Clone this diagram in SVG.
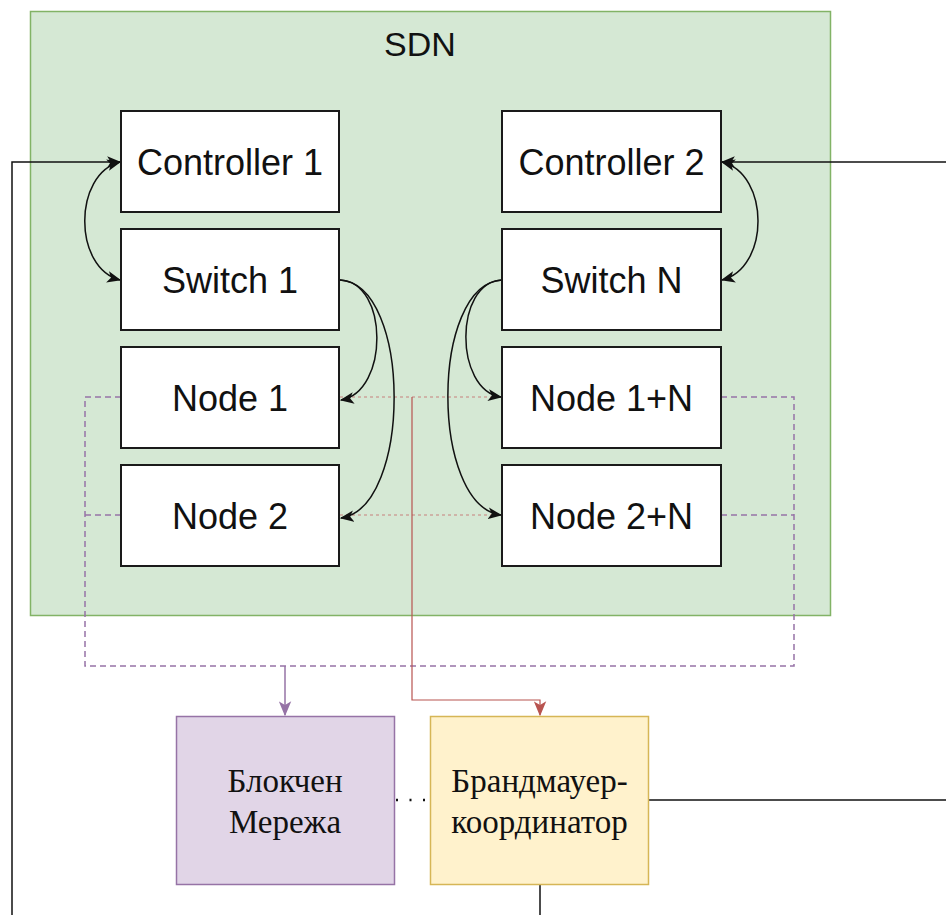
<svg xmlns="http://www.w3.org/2000/svg" width="946" height="915" viewBox="0 0 946 915">
  <defs>
    <style>
      .box { fill: #ffffff; stroke: #1a1a1a; stroke-width: 2; }
      .lbl { font-family: "Liberation Sans", Arial, sans-serif; font-size: 36px; fill: #111; text-anchor: middle; }
      .ser { font-family: "Liberation Serif", "Times New Roman", serif; font-size: 33px; fill: #111; text-anchor: middle; }
      .edge { fill: none; stroke: #111; stroke-width: 1.5; }
      .purple { fill: none; stroke: #9673a6; stroke-width: 1.5; stroke-dasharray: 6 4; }
      .red { fill: none; stroke: #b85450; stroke-width: 1.2; }
      .reddash { fill: none; stroke: #c8807c; stroke-width: 1.2; stroke-dasharray: 3 3; }
    </style>
    <marker id="arrow" viewBox="0 0 12 10" refX="11" refY="5" markerWidth="14" markerHeight="12" markerUnits="userSpaceOnUse" orient="auto-start-reverse">
      <path d="M0,0 L12,5 L0,10 L3,5 Z" fill="#111"/>
    </marker>
    <marker id="arrowPurple" viewBox="0 0 12 10" refX="11" refY="5" markerWidth="15" markerHeight="13" markerUnits="userSpaceOnUse" orient="auto">
      <path d="M0,0 L12,5 L0,10 L3,5 Z" fill="#9673a6"/>
    </marker>
    <marker id="arrowRed" viewBox="0 0 12 10" refX="11" refY="5" markerWidth="15" markerHeight="13" markerUnits="userSpaceOnUse" orient="auto">
      <path d="M0,0 L12,5 L0,10 L3,5 Z" fill="#b85450"/>
    </marker>
  </defs>

  <!-- SDN container -->
  <g id="sdn">
    <rect x="30.5" y="11.5" width="800" height="604" fill="#d5e8d4" stroke="#82b366" stroke-width="1.5"/>
    <text x="420" y="56" class="lbl" style="font-size:34px">SDN</text>
  </g>

  <!-- connectors -->
  <g id="connectors">
    <!-- dashed links from nodes to the blockchain -->
    <path class="purple" d="M121,397 H85 V666 H794 V397 H721"/>
    <path class="purple" d="M121,515 H85"/>
    <path class="purple" d="M721,515 H794"/>
    <path class="purple" d="M285,666 V715" style="stroke-dasharray:none" marker-end="url(#arrowPurple)"/>

    <!-- red links from nodes to the firewall coordinator -->
    <path class="reddash" d="M340,397 H502"/>
    <path class="reddash" d="M340,515 H502"/>
    <path class="red" d="M412,397 V700 H540 V715" marker-end="url(#arrowRed)"/>

    <!-- external lines -->
    <path class="edge" d="M12,915 V162 H120" marker-end="url(#arrow)"/>
    <path class="edge" d="M946,162 H722" marker-end="url(#arrow)"/>
    <path class="edge" d="M649,800 H946"/>
    <path class="edge" d="M540,885 V915"/>
    <path class="edge" d="M396,800 H430" style="stroke-dasharray:2 11.5; stroke-width:2.5"/>

    <!-- controller / switch links -->
    <path class="edge" d="M120,162 C73,174 73,268 120,280" marker-start="url(#arrow)" marker-end="url(#arrow)"/>
    <path class="edge" d="M722,162 C770,174 770,268 722,280" marker-start="url(#arrow)" marker-end="url(#arrow)"/>

    <!-- switch to node links -->
    <path class="edge" d="M340,280 C389,282 389,392 341,400" marker-end="url(#arrow)"/>
    <path class="edge" d="M340,280 C412,284 412,508 341,518" marker-end="url(#arrow)"/>
    <path class="edge" d="M502,280 C454,282 454,390 501,397" marker-end="url(#arrow)"/>
    <path class="edge" d="M502,280 C430,284 430,506 501,515" marker-end="url(#arrow)"/>
  </g>

  <g id="controller1">
    <rect class="box" x="121" y="111" width="218" height="101"/>
    <text class="lbl" x="230" y="175">Controller 1</text>
  </g>
  <g id="switch1">
    <rect class="box" x="121" y="229" width="218" height="101"/>
    <text class="lbl" x="230" y="293">Switch 1</text>
  </g>
  <g id="node1">
    <rect class="box" x="121" y="347" width="218" height="101"/>
    <text class="lbl" x="230" y="411">Node 1</text>
  </g>
  <g id="node2">
    <rect class="box" x="121" y="465" width="218" height="101"/>
    <text class="lbl" x="230" y="529">Node 2</text>
  </g>

  <g id="controller2">
    <rect class="box" x="502" y="111" width="219" height="101"/>
    <text class="lbl" x="611.5" y="175">Controller 2</text>
  </g>
  <g id="switchN">
    <rect class="box" x="502" y="229" width="219" height="101"/>
    <text class="lbl" x="611.5" y="293">Switch N</text>
  </g>
  <g id="node1N">
    <rect class="box" x="502" y="347" width="219" height="101"/>
    <text class="lbl" x="611.5" y="411">Node 1+N</text>
  </g>
  <g id="node2N">
    <rect class="box" x="502" y="465" width="219" height="101"/>
    <text class="lbl" x="611.5" y="529">Node 2+N</text>
  </g>

  <g id="blockchain">
    <rect x="176.5" y="716.5" width="218" height="168" fill="#e1d5e7" stroke="#9673a6" stroke-width="1.5"/>
    <text class="ser" x="285" y="792">Блокчен</text>
    <text class="ser" x="285" y="833">Мережа</text>
  </g>
  <g id="firewall">
    <rect x="430.5" y="716.5" width="218" height="168" fill="#fff2cc" stroke="#d6b656" stroke-width="1.5"/>
    <text class="ser" x="539.5" y="792">Брандмауер-</text>
    <text class="ser" x="539.5" y="833">координатор</text>
  </g>
</svg>
